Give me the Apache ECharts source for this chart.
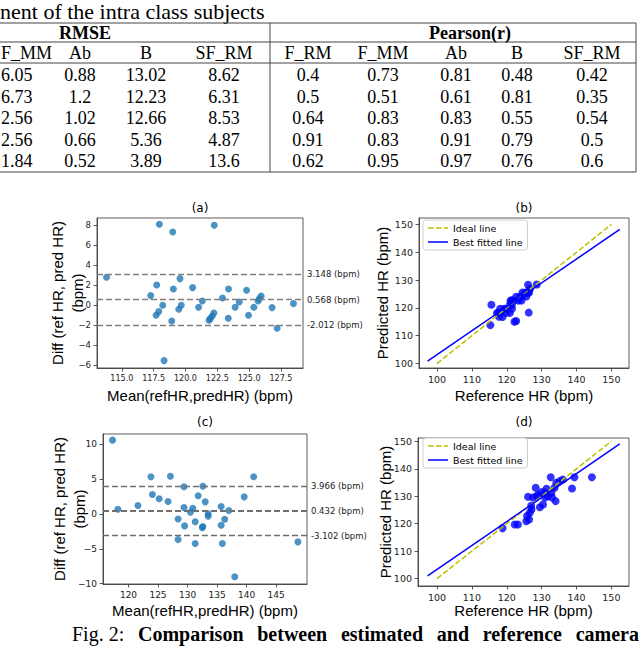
<!DOCTYPE html>
<html>
<head>
<meta charset="utf-8">
<script src="https://cdn.jsdelivr.net/npm/echarts@6.0.0/dist/echarts.min.js"></script>
<style>
html, body { margin: 0; padding: 0; background: #fff; }
#main { width: 640px; height: 649px; }
</style>
</head>
<body>
<div id="main"></div>
<script>
// ---- table (the page crop starts inside its first column) ----
var rmseHead = ['F_MM', 'Ab', 'B', 'SF_RM'];
var pearsonHead = ['F_RM', 'F_MM', 'Ab', 'B', 'SF_RM'];
var rmseRows = [
    ['6.05', '0.88', '13.02', '8.62'],
    ['6.73', '1.2', '12.23', '6.31'],
    ['2.56', '1.02', '12.66', '8.53'],
    ['2.56', '0.66', '5.36', '4.87'],
    ['1.84', '0.52', '3.89', '13.6']
];
var pearsonRows = [
    ['0.4', '0.73', '0.81', '0.48', '0.42'],
    ['0.5', '0.51', '0.61', '0.81', '0.35'],
    ['0.64', '0.83', '0.83', '0.55', '0.54'],
    ['0.91', '0.83', '0.91', '0.79', '0.5'],
    ['0.62', '0.95', '0.97', '0.76', '0.6']
];
var captionWords = ['Comparison', 'between', 'estimated', 'and', 'reference', 'camera'];

// ---- (a) Bland-Altman: [mean, diff] ----
var baA = [
    [113.8, 2.8], [117.95, 8.1], [119.0, 7.33], [122.26, 8.0], [117.27, 0.97],
    [117.74, 2.03], [119.57, 2.67], [119.05, 1.63], [120.56, 1.77], [118.21, 0.0],
    [117.9, -0.63], [117.69, -1.0], [118.92, -1.57], [119.67, 0.0], [119.47, -0.4],
    [118.32, -5.53], [121.32, 0.43], [121.03, -0.2], [122.23, -0.77], [122.1, -1.07],
    [121.95, -1.33], [121.85, -1.5], [122.91, 0.73], [123.38, 1.63], [123.36, -1.3],
    [123.9, -0.2], [124.22, 0.33], [124.8, 1.5], [124.95, -1.0], [125.37, -0.2],
    [125.7, 0.43], [125.8, 0.65], [125.94, 0.93], [126.8, -0.23], [127.2, -2.3],
    [128.48, 0.17]
];
var limitsA = [3.148, 0.568, -2.012];

// ---- (b) reference vs predicted ----
var scatB = [
    [115.3, 113.8], [122.2, 115.0], [122.7, 115.3], [126.3, 118.3], [117.8, 116.8],
    [118.8, 116.7], [120.9, 118.2], [119.9, 118.2], [121.5, 119.7], [118.2, 118.2],
    [117.6, 118.2], [117.2, 118.2], [118.1, 119.7], [119.7, 119.7], [119.3, 119.7],
    [115.6, 121.1], [121.5, 121.1], [120.9, 121.1], [121.9, 122.6], [121.6, 122.6],
    [121.3, 122.6], [121.1, 122.6], [123.3, 122.6], [124.2, 122.6], [122.7, 124.0],
    [123.8, 124.0], [124.4, 124.1], [125.6, 124.1], [124.5, 125.5], [125.3, 125.5],
    [125.9, 125.5], [126.4, 125.5], [126.7, 126.9], [126.1, 128.3], [128.6, 128.4],
    [126.1, 125.5]
];
var idealB = [[100, 100], [150, 150]];
var fitB = [[97.3, 100.9], [152.4, 148.2]];

// ---- (c) Bland-Altman, second group ----
var baC = [
    [117.3, 10.62], [118.2, 0.69], [121.6, 1.22], [123.8, 5.35], [124.05, 2.8],
    [125.2, 2.19], [126.7, 1.8], [127.1, 5.44], [128.4, -0.7], [128.4, -3.67],
    [129.4, 3.91], [129.4, 0.94], [129.5, -1.7], [130.5, 0.26], [130.9, 0.83],
    [131.3, -1.12], [131.3, -4.24], [131.8, 2.62], [132.6, 4.0], [132.6, -1.8],
    [132.5, -1.95], [133.0, 1.75], [133.5, 0.03], [133.5, -0.3], [135.7, 1.08],
    [135.7, -1.6], [135.9, -4.24], [136.3, -0.74], [137.0, 0.5], [138.0, -9.0],
    [139.6, 2.47], [141.2, 5.35], [148.7, -4.0]
];
var limitsC = [3.966, 0.432, -3.102];

// ---- (d) reference vs predicted ----
var scatD = [
    [118.8, 118.3], [122.3, 119.7], [123.2, 119.7], [125.6, 120.9], [125.8, 122.8],
    [126.6, 124.0], [127.1, 125.2], [126.1, 129.8], [127.5, 129.5], [128.3, 133.1],
    [129.5, 126.0], [130.4, 127.0], [130.9, 131.3], [131.4, 132.7], [131.8, 130.0],
    [132.8, 131.3], [132.6, 136.9], [133.7, 133.1], [134.0, 128.2], [134.2, 134.9],
    [135.2, 135.5], [136.1, 136.1], [138.7, 132.8], [139.4, 136.9], [144.4, 136.9],
    [128.5, 130.0], [129.0, 130.5], [127.0, 126.5], [131.0, 129.5], [130.0, 131.5],
    [133.0, 129.5], [126.4, 121.5]
];
var idealD = [[100, 100], [150, 150]];
var fitD = [[97.3, 100.95], [152.4, 149.05]];

var ticksA_x = [115, 117.5, 120, 122.5, 125, 127.5];
var ticksA_y = [-6, -4, -2, 0, 2, 4, 6, 8];
var ticksC_x = [120, 125, 130, 135, 140, 145];
var ticksC_y = [-10, -5, 0, 5, 10];
var ticksHR = [100, 110, 120, 130, 140, 150];

var chart = echarts.init(document.getElementById('main'), null, { renderer: 'svg' });

var serif = '"Liberation Serif", "Times New Roman", serif';
var tickFont = 'DejaVu Sans';

function minusFmt(v) {
    return v < 0 ? '\u2212' + Math.abs(v) : String(v);
}

function axis(kind, grid, min, max, ticks, fmt, name, gap, labelSize) {
    var a = {
        type: 'value', gridIndex: grid, min: min, max: max,
        axisLine: { show: true, onZero: false, lineStyle: { color: '#333', width: 0.8 } },
        axisTick: { show: true, length: 3.5, customValues: ticks, lineStyle: { color: '#333', width: 0.8 } },
        axisLabel: { customValues: ticks, formatter: fmt, fontSize: labelSize || 9.5, color: '#222', margin: 6, fontFamily: tickFont },
        splitLine: { show: false },
        name: name, nameLocation: 'middle', nameGap: gap, nameMoveOverlap: false,
        nameTextStyle: { fontSize: 15, fontFamily: 'Liberation Sans', color: '#000', lineHeight: 20 }
    };
    if (kind === 'y') a.nameRotate = 90;
    return a;
}

function limitLine(vals, color, width) {
    return {
        silent: true, symbol: 'none',
        lineStyle: { color: color, type: [6, 3], width: 1.3 },
        label: {
            position: 'end', distance: 4, fontSize: 8.5, color: '#222', fontFamily: tickFont,
            formatter: function (p) { return p.name + ' (bpm)'; }
        },
        data: vals.map(function (v, i) {
            return { yAxis: v, name: v.toFixed(3), lineStyle: { width: i === 1 ? width : 1.3 } };
        })
    };
}

var dashIcon = 'path://M0,0H5.5V1.5H0Z M7.9,0H13.4V1.5H7.9Z M15.8,0H20V1.5H15.8Z';
var solidIcon = 'path://M0,0H20V1.5H0Z';

function legendAt(top) {
    return {
        orient: 'vertical', left: 423, top: top,
        padding: [3, 5, 3, 5], itemGap: 4, itemWidth: 20, itemHeight: 1.5,
        borderColor: '#cfcfcf', borderWidth: 1, borderRadius: 3, backgroundColor: '#fff',
        textStyle: { fontSize: 9.5, fontFamily: tickFont, color: '#000' },
        selectedMode: false,
        data: [
            { name: 'Ideal line', icon: dashIcon, itemStyle: { color: '#bfbf00', borderWidth: 0 } },
            { name: 'Best fitted line', icon: solidIcon, itemStyle: { color: '#0000ff', borderWidth: 0 } }
        ]
    };
}

// ---- table + captions as graphic text ----
var g = [];
function txt(s, x, y, font, align) {
    g.push({
        type: 'text', x: x, y: y, silent: true,
        style: { text: s, font: font, fill: '#000', textAlign: align || 'center', textVerticalAlign: 'middle' }
    });
}
function hline(x1, x2, y) {
    g.push({ type: 'line', silent: true, shape: { x1: x1, y1: y, x2: x2, y2: y }, style: { stroke: '#444', lineWidth: 1 } });
}
function vline(x, y1, y2) {
    g.push({ type: 'line', silent: true, shape: { x1: x, y1: y1, x2: x, y2: y2 }, style: { stroke: '#444', lineWidth: 1 } });
}

var tFont = '18px ' + serif;
var rmseColX = [1, 80, 146, 224];
var pearsonColX = [308, 383, 456, 517, 592];
var rowY = [75, 96.5, 118, 139.5, 161];

txt('nent of the intra class subjects', 0, 11.5, '22px ' + serif, 'left');
hline(0, 636, 23);
hline(0, 636, 42);
hline(0, 636, 63);
hline(0, 636, 172);
vline(270, 23, 172);
vline(636, 23, 172);
txt('RMSE', 85, 32.5, 'bold ' + tFont);
txt('Pearson(r)', 470, 32.5, 'bold ' + tFont);
rmseHead.forEach(function (h, i) { txt(h, rmseColX[i], 52.5, tFont, i === 0 ? 'left' : 'center'); });
pearsonHead.forEach(function (h, i) { txt(h, pearsonColX[i], 52.5, tFont); });
rmseRows.forEach(function (r, j) {
    r.forEach(function (v, i) { txt(v, rmseColX[i], rowY[j], tFont, i === 0 ? 'left' : 'center'); });
});
pearsonRows.forEach(function (r, j) {
    r.forEach(function (v, i) { txt(v, pearsonColX[i], rowY[j], tFont); });
});

// panel titles
var titleFont = '12px "DejaVu Sans"';
txt('(a)', 200, 208, titleFont);
txt('(b)', 524, 208, titleFont);
txt('(c)', 205, 422, titleFont);
txt('(d)', 524, 422, titleFont);

// figure caption, justified between capLeft and capRight
var capLeft = 72, capRight = 639, capY = 634;
var capFont = '20px ' + serif, capBold = 'bold 20px ' + serif;
var ctx = document.createElement('canvas').getContext('2d');
ctx.font = capFont;
var figLabel = 'Fig. 2:';
var wFig = ctx.measureText(figLabel).width;
ctx.font = capBold;
var widths = captionWords.map(function (w) { return ctx.measureText(w).width; });
var total = wFig + widths.reduce(function (s, w) { return s + w; }, 0);
var gapW = (capRight - capLeft - total) / captionWords.length;
txt(figLabel, capLeft, capY, capFont, 'left');
var cx = capLeft + wFig + gapW;
captionWords.forEach(function (w, i) {
    txt(w, cx, capY, capBold, 'left');
    cx += widths[i] + gapW;
});

var option = {
    animation: false,
    backgroundColor: '#fff',
    grid: [
        { left: 97, top: 218, width: 206, height: 150, show: true, borderColor: '#333', borderWidth: 0.8, backgroundColor: '#fff' },
        { left: 419, top: 218, width: 210, height: 150, show: true, borderColor: '#333', borderWidth: 0.8, backgroundColor: '#fff' },
        { left: 103, top: 434, width: 204, height: 150, show: true, borderColor: '#333', borderWidth: 0.8, backgroundColor: '#fff' },
        { left: 418, top: 438, width: 211, height: 148, show: true, borderColor: '#333', borderWidth: 0.8, backgroundColor: '#fff' }
    ],
    xAxis: [
        axis('x', 0, 113.05, 129.23, ticksA_x, function (v) { return v.toFixed(1); }, 'Mean(refHR,predHR) (bpm)', 17, 8),
        axis('x', 1, 94.84, 155.05, ticksHR, null, 'Reference HR (bpm)', 17),
        axis('x', 2, 115.68, 150.24, ticksC_x, null, 'Mean(refHR,predHR) (bpm)', 16, 9),
        axis('x', 3, 94.55, 155.05, ticksHR, null, 'Reference HR (bpm)', 14)
    ],
    yAxis: [
        axis('y', 0, -6.27, 8.73, ticksA_y, minusFmt, 'Diff (ref HR, pred HR)\n(bpm)', 10, 8.5),
        axis('y', 1, 98.4, 152.3, ticksHR, null, 'Predicted HR (bpm)', 27),
        axis('y', 2, -10.05, 11.5, ticksC_y, minusFmt, 'Diff (ref HR, pred HR)\n(bpm)', 14, 9),
        axis('y', 3, 97.3, 151.2, ticksHR, null, 'Predicted HR (bpm)', 23)
    ],
    legend: [legendAt(220), legendAt(438)],
    series: [
        {
            type: 'scatter', xAxisIndex: 0, yAxisIndex: 0, data: baA, symbolSize: 7,
            itemStyle: { color: '#1f77b4' }, markLine: limitLine(limitsA, '#7f7f7f', 1.3)
        },
        { type: 'scatter', xAxisIndex: 1, yAxisIndex: 1, data: scatB, symbolSize: 8, itemStyle: { color: '#0000ff' } },
        {
            name: 'Ideal line', type: 'line', xAxisIndex: 1, yAxisIndex: 1, data: idealB, symbol: 'none',
            itemStyle: { color: '#bfbf00' }, lineStyle: { color: '#bfbf00', type: [5.5, 2.4], width: 1.5 }
        },
        {
            name: 'Best fitted line', type: 'line', xAxisIndex: 1, yAxisIndex: 1, data: fitB, symbol: 'none',
            itemStyle: { color: '#0000ff' }, lineStyle: { color: '#0000ff', width: 1.5 }
        },
        {
            type: 'scatter', xAxisIndex: 2, yAxisIndex: 2, data: baC, symbolSize: 7,
            itemStyle: { color: '#1f77b4' }, markLine: limitLine(limitsC, '#707070', 1.8)
        },
        { type: 'scatter', xAxisIndex: 3, yAxisIndex: 3, data: scatD, symbolSize: 8, itemStyle: { color: '#0000ff' } },
        {
            name: 'Ideal line', type: 'line', xAxisIndex: 3, yAxisIndex: 3, data: idealD, symbol: 'none',
            itemStyle: { color: '#bfbf00' }, lineStyle: { color: '#bfbf00', type: [5.5, 2.4], width: 1.5 }
        },
        {
            name: 'Best fitted line', type: 'line', xAxisIndex: 3, yAxisIndex: 3, data: fitD, symbol: 'none',
            itemStyle: { color: '#0000ff' }, lineStyle: { color: '#0000ff', width: 1.5 }
        }
    ],
    graphic: g
};

chart.setOption(option);
</script>
</body>
</html>
